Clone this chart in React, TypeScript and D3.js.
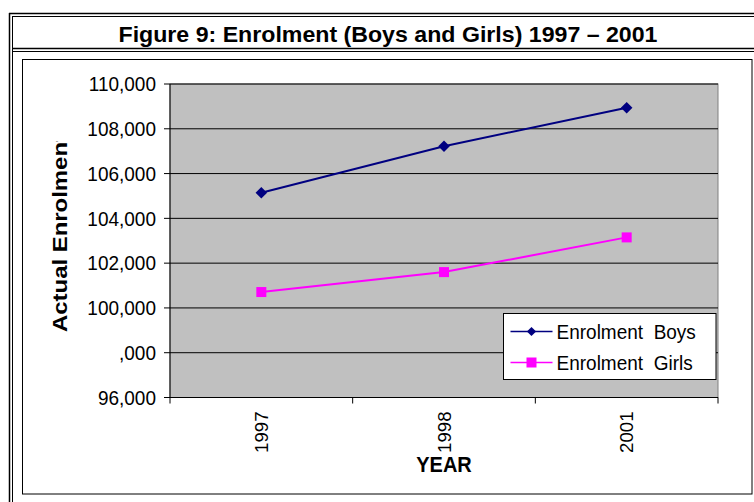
import React from "react";
import * as d3 from "d3";

const years = ["1997", "1998", "2001"];
const boys = [105140, 107220, 108940];
const girls = [100710, 101600, 103150];
const yTickValues = [96000, 98000, 100000, 102000, 104000, 106000, 108000, 110000];
const yTickLabels = ["96,000", ",000", "100,000", "102,000", "104,000", "106,000", "108,000", "110,000"];
const seriesNames = ["Enrolment  Boys", "Enrolment  Girls"];
const title = "Figure 9: Enrolment (Boys and Girls) 1997 \u2013 2001";
const yTitle = "Actual Enrolment";
const xTitle = "YEAR";

const W = 754;
const H = 502;
const plot = { left: 170, right: 718, top: 84, bottom: 397.5 };
const FONT = "'Liberation Sans', Arial, sans-serif";
const SY = 1.1;

export default function App() {
  const x = d3.scaleBand<string>().domain(years).range([plot.left, plot.right]).padding(0);
  const y = d3.scaleLinear().domain([96000, 110000]).range([plot.bottom, plot.top]);
  const cx = (d: string) => (x(d) as number) + x.bandwidth() / 2;
  const line = d3
    .line<number>()
    .x((_, i) => cx(years[i]))
    .y((v) => y(v));
  const diamond = d3.symbol().type(d3.symbolDiamond2).size(85)();
  const boundaries = [...years.map((d) => x(d) as number), plot.right];

  return (
    <svg
      width={W}
      height={H}
      style={{ position: "fixed", left: 0, top: 0, background: "#fff" }}
      fontFamily={FONT}
    >
      <defs>
        <clipPath id="ytclip">
          <rect x={0} y={141.5} width={150} height={300} />
        </clipPath>
      </defs>
      {/* table borders */}
      <g stroke="#000" fill="none">
        <line x1={9.5} x2={9.5} y1={13} y2={H} strokeWidth={1.5} />
        <line x1={12.5} x2={12.5} y1={16} y2={H} strokeWidth={1} />
        <line x1={9} x2={W} y1={13.5} y2={13.5} strokeWidth={1.5} />
        <line x1={12} x2={W} y1={16.5} y2={16.5} strokeWidth={1} />
        <line x1={12} x2={W} y1={48.5} y2={48.5} strokeWidth={1.5} />
        <line x1={12} x2={W} y1={51.5} y2={51.5} strokeWidth={1} />
        <rect x={22.5} y={59.5} width={729.5} height={434.5} strokeWidth={1} />
      </g>
      <text
        x={388}
        y={41.5}
        textAnchor="middle"
        fontWeight="bold"
        fontSize={22}
        textLength={539}
        lengthAdjust="spacingAndGlyphs"
      >
        {title}
      </text>

      {/* plot area */}
      <rect
        x={plot.left}
        y={plot.top}
        width={plot.right - plot.left}
        height={plot.bottom - plot.top}
        fill="#C0C0C0"
        stroke="#808080"
        strokeWidth={1}
      />
      {yTickValues.map((v, i) => (
        <g key={v}>
          {i > 0 && (
            <line x1={plot.left} x2={plot.right} y1={y(v)} y2={y(v)} stroke="#000" strokeWidth={1} />
          )}
          <line x1={plot.left - 6} x2={plot.left} y1={y(v)} y2={y(v)} stroke="#000" />
          <text
            transform={`translate(156,${y(v)}) scale(1,${SY})`}
            textAnchor="end"
            dominantBaseline="central"
            fontSize={19}
          >
            {yTickLabels[i]}
          </text>
        </g>
      ))}
      <line x1={plot.left} x2={plot.left} y1={plot.top} y2={plot.bottom} stroke="#000" />
      <line x1={plot.left} x2={plot.right} y1={plot.bottom} y2={plot.bottom} stroke="#000" />
      {boundaries.map((b, i) => (
        <line key={i} x1={b} x2={b} y1={plot.bottom} y2={plot.bottom + 6} stroke="#000" />
      ))}
      {years.map((d) => (
        <text
          key={d}
          transform={`translate(${cx(d)},${411.5}) rotate(-90)`}
          textAnchor="end"
          dominantBaseline="central"
          fontSize={18.6}
        >
          {d}
        </text>
      ))}
      <text
        transform={`translate(444,472) scale(1,${SY})`}
        textAnchor="middle"
        fontWeight="bold"
        fontSize={20}
      >
        {xTitle}
      </text>
      <g clipPath="url(#ytclip)">
        <text
          transform={`translate(${67},${332}) rotate(-90)`}
          textAnchor="start"
          fontWeight="bold"
          fontSize={21}
          textLength={198}
          lengthAdjust="spacingAndGlyphs"
        >
          {yTitle}
        </text>
      </g>

      {/* series */}
      <path d={line(boys) || ""} fill="none" stroke="#000080" strokeWidth={2} />
      <path d={line(girls) || ""} fill="none" stroke="#FF00FF" strokeWidth={2} />
      {boys.map((v, i) => (
        <path key={i} d={diamond || ""} transform={`translate(${cx(years[i])},${y(v)})`} fill="#000080" />
      ))}
      {girls.map((v, i) => (
        <rect key={i} x={cx(years[i]) - 5} y={y(v) - 5} width={10} height={10} fill="#FF00FF" />
      ))}

      {/* legend */}
      <rect x={503.5} y={313.5} width={212.5} height={66} fill="#fff" stroke="#000" />
      {[0, 1].map((i) => {
        const ly = i === 0 ? 331.5 : 362.5;
        const color = i === 0 ? "#000080" : "#FF00FF";
        return (
          <g key={i}>
            <line x1={510.5} x2={552.5} y1={ly} y2={ly} stroke={color} strokeWidth={1.5} />
            {i === 0 ? (
              <path d={diamond || ""} transform={`translate(531.5,${ly}) scale(0.8)`} fill={color} />
            ) : (
              <rect x={526.5} y={ly - 5} width={10} height={10} fill={color} />
            )}
            <text
              transform={`translate(556.5,${ly}) scale(1,${SY})`}
              dominantBaseline="central"
              fontSize={19}
              style={{ whiteSpace: "pre" }}
            >
              {seriesNames[i]}
            </text>
          </g>
        );
      })}
    </svg>
  );
}
